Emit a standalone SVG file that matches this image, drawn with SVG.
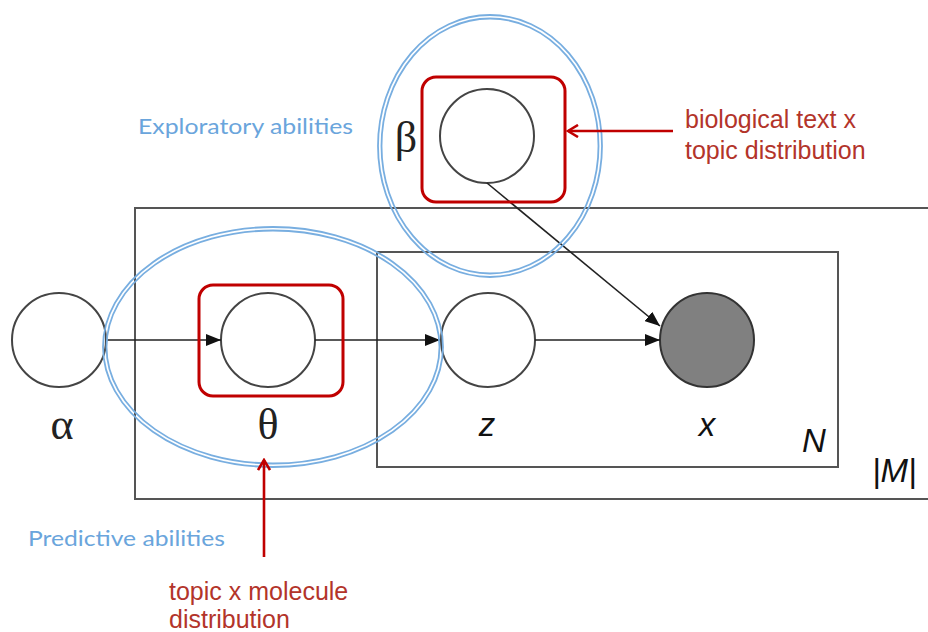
<svg xmlns="http://www.w3.org/2000/svg" width="928" height="632" viewBox="0 0 928 632">
  <defs>
    <marker id="arr" viewBox="0 0 15 12" refX="15" refY="6" markerWidth="15" markerHeight="12" markerUnits="userSpaceOnUse" orient="auto">
      <path d="M0,0 L15,6 L0,12 z" fill="#111"/>
    </marker>
    <marker id="arrRed" viewBox="0 0 14 14" refX="12" refY="7" markerWidth="14" markerHeight="14" markerUnits="userSpaceOnUse" orient="auto">
      <path d="M2,1 L12,7 L2,13" fill="none" stroke="#c00000" stroke-width="2.6"/>
    </marker>
  </defs>
  <style>
    .plate { fill: none; stroke: #555; stroke-width: 2; }
    .node { fill: #fff; stroke: #444; stroke-width: 2; }
    .obs { fill: #808080; stroke: #333; stroke-width: 2; }
    .hl { fill: none; stroke: #c00000; stroke-width: 3; }
    .ring { fill: none; stroke: #78aee0; stroke-width: 1.8; }
    .edge { stroke: #222; stroke-width: 1.6; fill: none; marker-end: url(#arr); }
    .callout { stroke: #c00000; stroke-width: 2.6; fill: none; marker-end: url(#arrRed); }
    .greek { font-family: "Liberation Serif", "DejaVu Serif", serif; font-size: 44px; fill: #222; text-anchor: middle; }
    .var { font-family: "Liberation Sans", Arial, sans-serif; font-style: italic; font-size: 33px; fill: #111; text-anchor: middle; }
    .plateLabel { font-family: "Liberation Sans", Arial, sans-serif; font-style: italic; font-size: 33px; fill: #111; }
    .note { font-family: "Liberation Sans", Arial, sans-serif; font-size: 25px; fill: #b3342a; }
    .ability { font-family: Lato, "Open Sans", "Liberation Sans", sans-serif; font-size: 22px; fill: #6aa5dc; }
  </style>

  <!-- plates -->
  <g id="plate-M">
    <rect class="plate" x="135" y="208" width="820" height="291"/>
    <text class="plateLabel" x="872" y="482">|M|</text>
  </g>
  <g id="plate-N">
    <rect class="plate" x="377" y="252" width="461" height="215"/>
    <text class="plateLabel" x="802" y="452">N</text>
  </g>

  <!-- variables -->
  <g id="node-alpha">
    <circle class="node" cx="59" cy="340" r="47"/>
    <text class="greek" x="62" y="439">α</text>
  </g>
  <g id="node-theta">
    <circle class="node" cx="268" cy="340" r="47"/>
    <text class="greek" x="268" y="439">θ</text>
  </g>
  <g id="node-z">
    <circle class="node" cx="488" cy="340" r="47"/>
    <text class="var" x="487" y="436">z</text>
  </g>
  <g id="node-x">
    <circle class="obs" cx="707" cy="340" r="47"/>
    <text class="var" x="707" y="436">x</text>
  </g>
  <g id="node-beta">
    <circle class="node" cx="487" cy="136" r="47"/>
    <text class="greek" x="406" y="152">β</text>
  </g>

  <!-- edges -->
  <g id="connectors">
    <line class="edge" x1="106" y1="340" x2="221" y2="340"/>
    <line class="edge" x1="315" y1="340" x2="440" y2="340"/>
    <line class="edge" x1="535" y1="340" x2="660" y2="340"/>
    <line class="edge" x1="487" y1="183" x2="660" y2="326"/>
  </g>

  <!-- highlighted distributions -->
  <g id="highlight-beta">
    <rect class="hl" x="422" y="77" width="143" height="125" rx="14"/>
  </g>
  <g id="highlight-theta">
    <rect class="hl" x="199" y="285" width="144" height="111" rx="14"/>
  </g>

  <!-- ability regions -->
  <g id="region-exploratory">
    <ellipse class="ring" cx="490" cy="146" rx="112" ry="131"/>
    <ellipse class="ring" cx="490" cy="146" rx="108.5" ry="127.5"/>
    <text class="ability" x="138" y="134" textLength="215" lengthAdjust="spacingAndGlyphs">Exploratory abilities</text>
  </g>
  <g id="region-predictive">
    <ellipse class="ring" cx="273" cy="347" rx="170" ry="120"/>
    <ellipse class="ring" cx="273" cy="347" rx="166.5" ry="116.5"/>
    <text class="ability" x="28" y="546" textLength="197" lengthAdjust="spacingAndGlyphs">Predictive abilities</text>
  </g>

  <!-- callouts -->
  <g id="callout-beta">
    <line class="callout" x1="673" y1="131" x2="568" y2="131"/>
    <text class="note" x="685" y="128">biological text x</text>
    <text class="note" x="685" y="159">topic distribution</text>
  </g>
  <g id="callout-theta">
    <line class="callout" x1="264" y1="557" x2="264" y2="460"/>
    <text class="note" x="169" y="600">topic x molecule</text>
    <text class="note" x="169" y="628">distribution</text>
  </g>
</svg>
